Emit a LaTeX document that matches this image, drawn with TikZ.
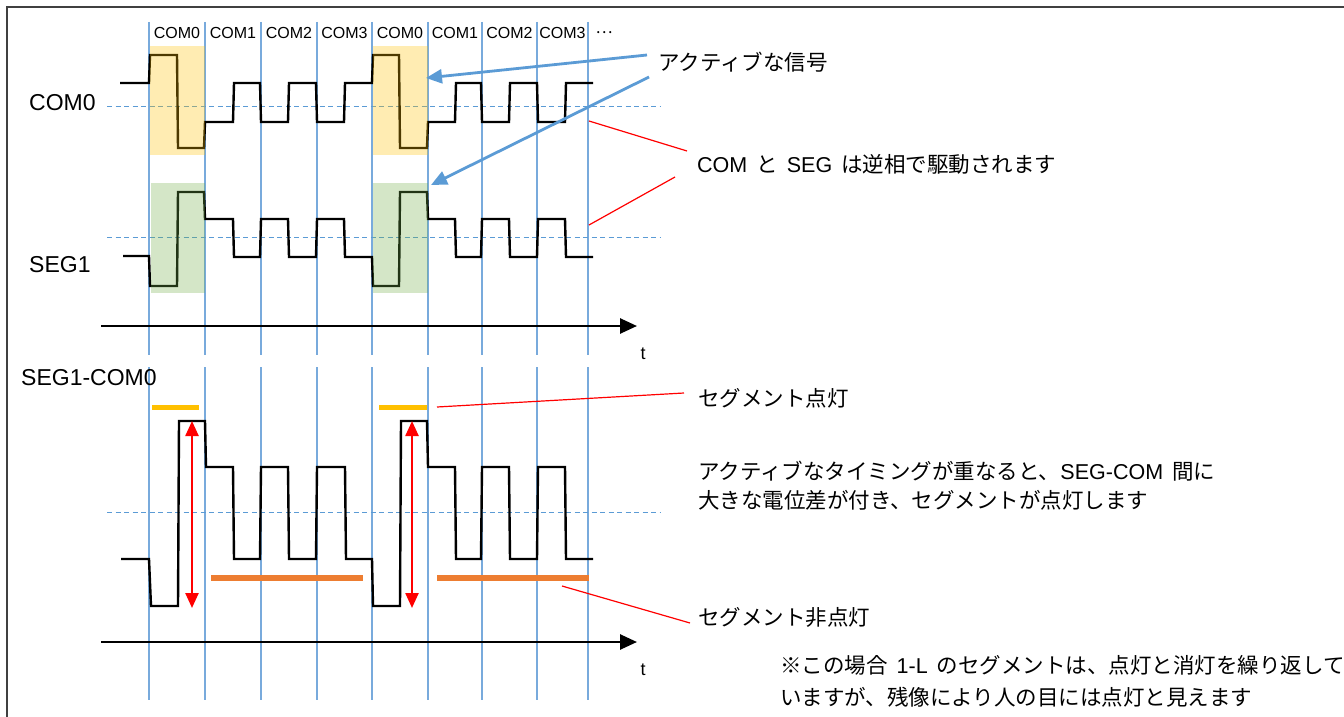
\documentclass[tikz,border=0pt]{standalone}
\usepackage{fontspec}
\setmainfont{Liberation Sans}
\newfontfamily\jp{Noto Sans CJK JP}
\usetikzlibrary{arrows.meta}
\newcommand\jsp{\hspace{9pt}}
\definecolor{vblue}{RGB}{120,170,220}
\definecolor{mblue}{RGB}{91,155,213}
\definecolor{litY}{RGB}{255,192,0}
\definecolor{offO}{RGB}{237,125,49}
\definecolor{actG}{RGB}{112,173,71}
\begin{document}
\begin{tikzpicture}[x=1pt,y=-1pt,
  vline/.style={draw=vblue,line width=1.4pt},
  midline/.style={draw=mblue,line width=1pt,dash pattern=on 5pt off 3.5pt},
  wave/.style={draw=black,line width=2.4pt,line join=miter},
  axis/.style={draw=black,line width=2.6pt,-{Triangle[length=17pt,width=15pt]}},
  toplbl/.style={font=\fontsize{16}{18}\selectfont,inner sep=0pt},
  sidelbl/.style={font=\fontsize{23}{26}\selectfont,inner sep=0pt,anchor=west},
  note/.style={font=\fontsize{21.5}{25}\selectfont,inner sep=0pt,anchor=west,align=left},
  bluecall/.style={draw=mblue,line width=2.8pt,-{Triangle[length=16pt,width=14pt]}},
  redcall/.style={draw=red,line width=1.2pt},
  redarr/.style={draw=red,line width=2.4pt,{Triangle[length=15pt,width=13pt]}-{Triangle[length=15pt,width=13pt]}},
  litbar/.style={draw=litY,line width=5pt},
  offbar/.style={draw=offO,line width=6pt},
  yshade/.style={fill=litY,fill opacity=0.3,draw=none},
  gshade/.style={fill=actG,fill opacity=0.3,draw=none}
]
\useasboundingbox (0,0) rectangle (1344,717);
% frame
\draw[line width=1.8pt,black!75] (7,717) -- (7,7) -- (1344,7);

% vertical time lines
\foreach \x in {149,205,261,317,372,428,482,537,588}{
  \draw[vline] (\x,22) -- (\x,355);
  \draw[vline] (\x,367) -- (\x,700);
}

% mid dashed lines
\draw[midline] (107,106) -- (660,106);
\draw[midline] (107,237) -- (660,237);
\draw[midline] (107,512) -- (660,512);

% COM0 waveform
\draw[wave] (120,83) -- (149,83) -- (150,55) -- (177,55) -- (178,148) -- (204,148) -- (205,122) -- (233,122) -- (234,83) -- (260,83) -- (261,122) -- (288,122) -- (289,83) -- (316,83) -- (317,122) -- (344,122) -- (345,83) -- (372,83) -- (373,55) -- (399,55) -- (400,148) -- (427,148) -- (428,122) -- (455,122) -- (456,83) -- (481,83) -- (482,122) -- (509,122) -- (510,83) -- (537,83) -- (538,122) -- (565,122) -- (566,83) -- (593,83);

% SEG1 waveform
\draw[wave] (123,256) -- (149,256) -- (150,286) -- (177,286) -- (178,192) -- (204,192) -- (205,219) -- (233,219) -- (234,257) -- (260,257) -- (261,219) -- (288,219) -- (289,257) -- (316,257) -- (317,219) -- (344,219) -- (345,257) -- (372,257) -- (373,286) -- (399,286) -- (400,192) -- (427,192) -- (428,219) -- (455,219) -- (456,257) -- (481,257) -- (482,219) -- (509,219) -- (510,257) -- (537,257) -- (538,219) -- (565,219) -- (566,257) -- (593,257);

% SEG1-COM0 waveform
\draw[wave] (121,559) -- (149,559) -- (151,606) -- (178,606) -- (179,421) -- (205,421) -- (206,467) -- (233,467) -- (234,559) -- (260,559) -- (261,467) -- (288,467) -- (289,559) -- (316,559) -- (317,467) -- (345,467) -- (346,559) -- (372,559) -- (373,606) -- (400,606) -- (401,421) -- (427,421) -- (428,467) -- (455,467) -- (456,559) -- (481,559) -- (482,467) -- (509,467) -- (510,559) -- (537,559) -- (538,467) -- (565,467) -- (566,559) -- (593,559);

% active shading
\fill[yshade] (150,46) rectangle (205,155);
\fill[yshade] (373,46) rectangle (428,155);
\fill[gshade] (151,183) rectangle (205,293);
\fill[gshade] (373,183) rectangle (428,293);

% lit / unlit bars
\draw[litbar] (152,407) -- (199,407);
\draw[litbar] (379,407) -- (427,407);
\draw[offbar] (211,578) -- (363,578);
\draw[offbar] (437,578) -- (589,578);

% red double arrows
\coordinate (ra1t) at (192,421);
\coordinate (ra1b) at (192,608);
\coordinate (ra2t) at (412,421);
\coordinate (ra2b) at (412,608);
\draw[redarr] (ra1t) -- (ra1b);
\draw[redarr] (ra2t) -- (ra2b);

% axes
\coordinate (ax1s) at (101,326);
\coordinate (ax1e) at (637,326);
\coordinate (ax2s) at (101,642);
\coordinate (ax2e) at (637,642);
\draw[axis] (ax1s) -- (ax1e);
\draw[axis] (ax2s) -- (ax2e);
\node[font=\fontsize{18}{20}\selectfont,inner sep=0pt] (t1) at (643,354) {t};
\node[font=\fontsize{18}{20}\selectfont,inner sep=0pt] (t2) at (643,670) {t};

% top labels
\node[toplbl] (c0a) at (177,33) {COM0};
\node[toplbl] (c1a) at (233,33) {COM1};
\node[toplbl] (c2a) at (289,33) {COM2};
\node[toplbl] (c3a) at (344.5,33) {COM3};
\node[toplbl] (c0b) at (400,33) {COM0};
\node[toplbl] (c1b) at (455,33) {COM1};
\node[toplbl] (c2b) at (509.5,33) {COM2};
\node[toplbl] (c3b) at (562.5,33) {COM3};
\node[toplbl] (dots) at (604,33) {\jp …};

% side labels
\node[sidelbl] (lcom) at (29,103) {COM0};
\node[sidelbl] (lseg) at (29,265) {SEG1};
\node[sidelbl] (ldiff) at (21,378) {SEG1-COM0};

% annotation texts
\node[note] (act) at (658,62) {\jp アクティブな信号};
\node[note] (anti) at (697,164) {COM\jsp{\jp と}\jsp SEG\jsp{\jp は逆相で駆動されます}};
\node[note] (lit) at (698,398) {\jp セグメント点灯};
\node[note,font=\fontsize{21.5}{29}\selectfont] (over) at (698,486) {{\jp アクティブなタイミングが重なると、}SEG-COM\jsp{\jp 間に}\\{\jp 大きな電位差が付き、セグメントが点灯します}};
\node[note] (unlit) at (698,617) {\jp セグメント非点灯};
\node[note,font=\fontsize{21.5}{32}\selectfont] (rem) at (780,681) {{\jp ※この場合}\jsp 1-L\jsp{\jp のセグメントは、点灯と消灯を繰り返して}\\{\jp いますが、残像により人の目には点灯と見えます}};

% blue callouts
\coordinate (b1s) at (647,55);
\coordinate (b1e) at (426,78);
\coordinate (b2s) at (649,77);
\coordinate (b2e) at (431,185);
\draw[bluecall] (b1s) -- (b1e);
\draw[bluecall] (b2s) -- (b2e);

% red callouts
\coordinate (r1s) at (687,151);
\coordinate (r1e) at (589,121);
\coordinate (r2s) at (675,177);
\coordinate (r2e) at (589,225);
\coordinate (r3s) at (684,393);
\coordinate (r3e) at (437,407);
\coordinate (r4s) at (690,623);
\coordinate (r4e) at (562,586);
\draw[redcall] (r1s) -- (r1e);
\draw[redcall] (r2s) -- (r2e);
\draw[redcall] (r3s) -- (r3e);
\draw[redcall] (r4s) -- (r4e);
\end{tikzpicture}
\end{document}
